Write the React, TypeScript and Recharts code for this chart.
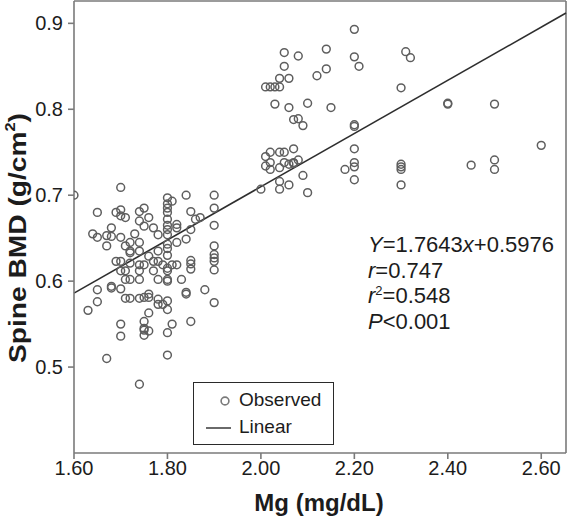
import React from "react";
import {
  ScatterChart,
  Scatter,
  XAxis,
  YAxis,
  ReferenceLine,
  Label,
} from "recharts";

// Mg (mg/dL) / Spine BMD (g/cm2)
const mgValues = [
  1.6, 1.7, 1.65, 1.69, 1.7, 1.7, 1.71, 1.74, 1.75, 1.76, 1.74, 1.75, 1.77, 1.78, 1.8, 1.8,
  1.64, 1.65, 1.67, 1.67, 1.68, 1.68, 1.7, 1.71, 1.73, 1.72, 1.74, 1.72, 1.72, 1.74, 1.76, 1.78,
  1.8, 1.69, 1.7, 1.72, 1.71, 1.74, 1.75, 1.77, 1.78, 1.79, 1.7, 1.71, 1.72, 1.74, 1.74, 1.77,
  1.78, 1.8, 1.68, 1.68, 1.7, 1.65, 1.71, 1.72, 1.74, 1.75, 1.76, 1.76, 1.78, 1.78, 1.8, 1.65,
  1.63, 1.76, 1.75, 1.7, 1.75, 1.76, 1.8, 1.7, 1.67, 1.8, 1.74, 1.75, 1.75, 1.81, 1.85, 1.8,
  1.79, 1.9, 1.8, 1.8, 1.83, 1.85, 1.9, 1.84, 1.84, 1.88, 1.84, 1.9, 2.0, 1.8, 1.8, 1.8,
  1.8, 1.8, 1.8, 1.8, 1.8, 1.81, 1.85, 1.86, 1.87, 1.9, 1.9, 1.82, 1.82, 1.85, 1.82, 1.84,
  1.9, 1.9, 1.9, 1.9, 1.85, 1.85, 1.81, 1.8, 1.82,
  2.2, 2.14, 2.05, 2.08, 2.2, 2.21, 2.05, 2.14, 2.12, 2.04, 2.06, 2.01, 2.02, 2.03, 2.04, 2.03,
  2.06, 2.1, 2.15, 2.07, 2.08, 2.09, 2.2, 2.2, 2.2, 2.2, 2.2, 2.2, 2.18, 2.01, 2.02, 2.04,
  2.05, 2.07, 2.01, 2.02, 2.02, 2.04, 2.05, 2.06, 2.07, 2.07, 2.08, 2.09, 2.04, 2.04, 2.06, 2.1,
  2.31, 2.32, 2.3, 2.4, 2.4, 2.5, 2.6, 2.3, 2.3, 2.3, 2.45, 2.5, 2.5, 2.3,
];
const bmdValues = [
  0.7, 0.709, 0.68, 0.68, 0.683, 0.676, 0.674, 0.681, 0.685, 0.674, 0.67, 0.664, 0.662, 0.654, 0.697, 0.685,
  0.655, 0.651, 0.653, 0.641, 0.652, 0.662, 0.651, 0.641, 0.655, 0.645, 0.645, 0.635, 0.633, 0.635, 0.629, 0.635,
  0.643, 0.623, 0.623, 0.621, 0.612, 0.619, 0.619, 0.623, 0.623, 0.619, 0.612, 0.602, 0.602, 0.602, 0.612, 0.612,
  0.602, 0.6, 0.592, 0.594, 0.591, 0.59, 0.58, 0.58, 0.58, 0.581, 0.585, 0.581, 0.579, 0.573, 0.577, 0.576,
  0.566, 0.563, 0.553, 0.55, 0.545, 0.542, 0.54, 0.536, 0.51, 0.514, 0.48, 0.543, 0.537, 0.55, 0.553, 0.567,
  0.573, 0.575, 0.612, 0.602, 0.602, 0.614, 0.613, 0.585, 0.587, 0.59, 0.7, 0.7, 0.707, 0.69, 0.68, 0.672,
  0.665, 0.66, 0.654, 0.638, 0.63, 0.693, 0.681, 0.672, 0.674, 0.685, 0.665, 0.666, 0.662, 0.66, 0.645, 0.649,
  0.641, 0.631, 0.627, 0.623, 0.624, 0.62, 0.619, 0.615, 0.619,
  0.893, 0.87, 0.866, 0.862, 0.861, 0.85, 0.85, 0.847, 0.839, 0.836, 0.836, 0.826, 0.826, 0.826, 0.826, 0.806,
  0.802, 0.807, 0.802, 0.788, 0.789, 0.781, 0.782, 0.78, 0.754, 0.738, 0.733, 0.718, 0.73, 0.745, 0.75, 0.75,
  0.75, 0.754, 0.734, 0.738, 0.73, 0.732, 0.738, 0.736, 0.738, 0.737, 0.741, 0.723, 0.716, 0.707, 0.712, 0.703,
  0.867, 0.86, 0.825, 0.807, 0.806, 0.806, 0.758, 0.736, 0.733, 0.73, 0.735, 0.741, 0.73, 0.712,
];

const xTicks = [1.6, 1.8, 2.0, 2.2, 2.4, 2.6];
const yTicks = [0.5, 0.6, 0.7, 0.8, 0.9];
const fitX = [1.6, 2.653];
const fitY = [0.586, 0.912];

const X_MAX = 2.653;
const Y_MIN = 0.4;
const Y_MAX = 0.926;

const observed = mgValues.map((mg, i) => ({ mg, bmd: bmdValues[i] }));

const FONT = "'Liberation Sans', Arial, sans-serif";
const AXIS = "#7a7a7a";
const TEXT = "#1c1c1c";

const Ring = (props: any) => (
  <circle cx={props.cx} cy={props.cy} r={3.9} fill="none" stroke="#5e5e5e" strokeWidth={1.5} />
);

export default function App() {
  return (
    <div style={{ position: "absolute", left: 0, top: 0, width: 568, height: 521, background: "#fff", fontFamily: FONT }}>
      <ScatterChart width={568} height={521} margin={{ top: 1, right: 2, bottom: 0, left: 0 }}>
        <XAxis
          type="number"
          dataKey="mg"
          domain={[1.6, X_MAX]}
          ticks={xTicks}
          allowDataOverflow
          height={68}
          tickFormatter={(v: number) => v.toFixed(2)}
          tick={{ fontSize: 20, fill: TEXT, fontFamily: FONT }}
          stroke={AXIS}
          strokeWidth={1.6}
          tickSize={6}
        >
          <Label
            content={({ viewBox }: any) => (
              <text
                x={viewBox.x + viewBox.width / 2 - 1}
                y={viewBox.y + 58}
                textAnchor="middle"
                fontSize={24}
                fontWeight="bold"
                fontFamily={FONT}
                fill={TEXT}
              >
                Mg (mg/dL)
              </text>
            )}
          />
        </XAxis>
        <YAxis
          type="number"
          dataKey="bmd"
          domain={[Y_MIN, Y_MAX]}
          ticks={yTicks}
          allowDataOverflow
          width={74}
          tickFormatter={(v: number) => v.toFixed(1)}
          tick={{ fontSize: 20, fill: TEXT, fontFamily: FONT, dx: -3 }}
          stroke={AXIS}
          strokeWidth={1.6}
          tickSize={6}
        >
          <Label
            content={() => {
              const cx = 17;
              const cy = 238;
              return (
                <text
                  x={cx}
                  y={cy}
                  transform={`rotate(-90 ${cx} ${cy})`}
                  textAnchor="middle"
                  dominantBaseline="central"
                  fontSize={24}
                  fontWeight="bold"
                  fontFamily={FONT}
                  fill={TEXT}
                  textLength={250}
                  lengthAdjust="spacingAndGlyphs"
                >
                  Spine BMD (g/cm<tspan dy={-7} fontSize={14}>2</tspan>
                  <tspan dy={7}>)</tspan>
                </text>
              );
            }}
          />
        </YAxis>
        <ReferenceLine y={Y_MAX} stroke={AXIS} strokeWidth={1.6} />
        <ReferenceLine x={X_MAX} stroke={AXIS} strokeWidth={1.6} />
        <Scatter data={observed} shape={Ring} isAnimationActive={false} />
        <ReferenceLine
          segment={[
            { x: fitX[0], y: fitY[0] },
            { x: fitX[1], y: fitY[1] },
          ]}
          stroke="#2e2e2e"
          strokeWidth={1.6}
          ifOverflow="extendDomain"
        />
      </ScatterChart>

      <div style={{ position: "absolute", left: 368, top: 232, fontSize: 22, lineHeight: "25.5px", color: TEXT, whiteSpace: "nowrap" }}>
        <div>
          <i>Y</i>=1.7643<i>x</i>+0.5976
        </div>
        <div>
          <i>r</i>=0.747
        </div>
        <div>
          <i>r</i>
          <sup style={{ fontSize: 13, lineHeight: 0 }}>2</sup>=0.548
        </div>
        <div>
          <i>P</i>&lt;0.001
        </div>
      </div>

      <div
        style={{
          position: "absolute",
          left: 193,
          top: 382,
          width: 139,
          height: 61,
          border: "1px solid #2a2a2a",
          background: "#fff",
          fontSize: 19,
          color: TEXT,
        }}
      >
        <svg style={{ position: "absolute", left: 0, top: 0 }} width={40} height={61}>
          <circle cx={31} cy={18} r={3.9} fill="none" stroke="#7a7a7a" strokeWidth={1.6} />
          <line x1={12} y1={45} x2={37} y2={45} stroke="#6a6a6a" strokeWidth={2} />
        </svg>
        <div style={{ position: "absolute", left: 45, top: 6 }}>Observed</div>
        <div style={{ position: "absolute", left: 45, top: 33 }}>Linear</div>
      </div>
    </div>
  );
}
